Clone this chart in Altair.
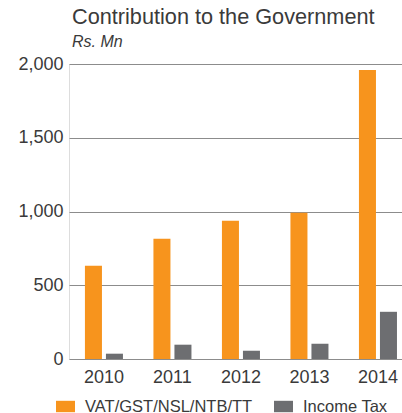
import altair as alt
import pandas as pd

years = ["2010", "2011", "2012", "2013", "2014"]
series_names = ["VAT/GST/NSL/NTB/TT", "Income Tax"]
vat_values = [632, 815, 937, 991, 1959]
income_tax_values = [36, 97, 56, 104, 320]
series_colors = ["#F7941D", "#6D6E71"]

rows = []
for i, y in enumerate(years):
    rows.append({"year": y, "series": series_names[0], "value": vat_values[i]})
    rows.append({"year": y, "series": series_names[1], "value": income_tax_values[i]})
df = pd.DataFrame(rows)

FONT = "Liberation Sans"
TXT = "#3a3a3a"

chart = alt.Chart(df).mark_bar().encode(
    x=alt.X("year:N", sort=years,
            scale=alt.Scale(paddingInner=0.445, paddingOuter=0.153, align=0.76),
            axis=alt.Axis(title=None, labelAngle=0, ticks=False, domain=False,
                          labelFont=FONT, labelFontSize=18, labelColor=TXT,
                          labelPadding=9, grid=False)),
    xOffset=alt.XOffset("series:N", sort=series_names,
                        scale=alt.Scale(domain=series_names, paddingInner=0.19, paddingOuter=0)),
    y=alt.Y("value:Q",
            scale=alt.Scale(domain=[0, 2000], nice=False),
            axis=alt.Axis(title=None, values=[0, 500, 1000, 1500, 2000], format=",.0f",
                          ticks=False, domain=False, grid=True, gridColor="#8c8c8c",
                          gridWidth=1, labelFont=FONT, labelFontSize=18,
                          labelColor=TXT, labelPadding=6)),
    color=alt.Color("series:N", sort=series_names,
                    scale=alt.Scale(domain=series_names, range=series_colors),
                    legend=alt.Legend(title=None, orient="none", direction="horizontal",
                                      legendX=-13, legendY=333,
                                      symbolType="M-1,-0.6L1,-0.6L1,0.6L-1,0.6Z",
                                      symbolSize=361, symbolStrokeWidth=0,
                                      labelFont=FONT, labelFontSize=16.5,
                                      labelColor=TXT, labelOffset=10, labelLimit=400,
                                      columnPadding=21, padding=0)),
).properties(
    width=333,
    height=295,
    title=alt.TitleParams(text="Contribution to the Government", subtitle="Rs. Mn",
                          anchor="start", frame="group", font=FONT, fontSize=21.7,
                          fontWeight="normal", color=TXT, subtitleFont=FONT,
                          subtitleFontSize=16, subtitleFontStyle="italic",
                          subtitleColor=TXT, subtitlePadding=5, offset=5, dx=3),
    autosize=alt.AutoSizeParams(type="none"),
    padding={"left": 69, "top": 64, "right": 0, "bottom": 54},
).configure_view(stroke=None).configure(background="white")

chart.save("out.html", embed_options={"renderer": "svg", "actions": False})
